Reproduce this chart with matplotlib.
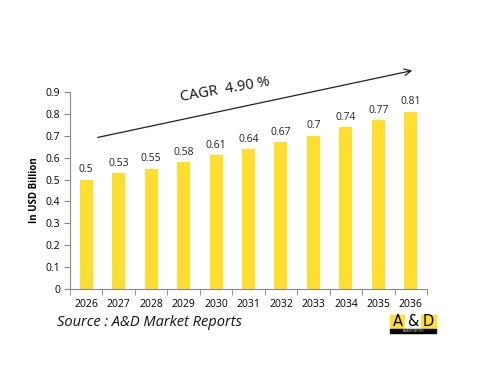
import matplotlib.pyplot as plt
from matplotlib.patches import Rectangle, FancyArrowPatch

years = ["2026", "2027", "2028", "2029", "2030", "2031", "2032", "2033", "2034", "2035", "2036"]
values = [0.5, 0.53, 0.55, 0.58, 0.61, 0.64, 0.67, 0.7, 0.74, 0.77, 0.81]
yticks = [0, 0.1, 0.2, 0.3, 0.4, 0.5, 0.6, 0.7, 0.8, 0.9]

plt.rcParams['font.family'] = ['Open Sans', 'DejaVu Sans']

W, H = 490, 377
fig = plt.figure(figsize=(W / 100, H / 100), dpi=100)
ax = fig.add_axes([70 / W, 1 - 289 / H, 357 / W, 197 / H])

x = list(range(len(years)))
ax.bar(x, values, width=0.4, color="#FFDE2E")
for xi, v in zip(x, values):
    ax.text(xi, v + 0.02, f"{v:g}", ha="center", va="bottom", fontsize=7.5, color="#222222")

ax.set_xlim(-0.5, len(years) - 0.5)
ax.set_ylim(0, 0.9)
ax.set_yticks(yticks)
ax.set_yticklabels([f"{t:g}" for t in yticks], fontsize=7.5)
ax.set_xticks(x)
ax.set_xticklabels(years, fontsize=7.5)
ax.set_xticks([i - 0.5 for i in range(len(years) + 1)], minor=True)
ax.tick_params(axis="x", which="major", length=0, pad=7)
ax.tick_params(axis="x", which="minor", length=4, color="#888888")
ax.tick_params(axis="y", length=4, color="#888888", pad=3)

for s in ["top", "right"]:
    ax.spines[s].set_visible(False)
for s in ["left", "bottom"]:
    ax.spines[s].set_color("#888888")

ax.set_ylabel("In USD Billion", fontsize=7, fontweight="bold", labelpad=4)

# CAGR arrow and label
fig.patches.append(FancyArrowPatch(
    (95 / W, 1 - 138 / H), (415 / W, 1 - 70 / H), transform=fig.transFigure,
    arrowstyle="->", mutation_scale=12, color="#222222", lw=0.9))
fig.text(225 / W, 1 - 90 / H, "CAGR  4.90 %", fontsize=10.5, rotation=10,
         ha="center", va="center", color="#111111")

fig.text(57 / W, 1 - 323 / H, "Source : A&D Market Reports", fontsize=10.5,
         style="italic", ha="left", va="center", color="#111111")

# logo
lx, ly, lw, lh = 390, 315, 46, 18
fig.patches.append(Rectangle((lx / W, 1 - (ly + lh) / H), lw / W, lh / H,
                             transform=fig.transFigure, color="#FFDE2E"))
fig.patches.append(Rectangle(((lx + 15) / W, 1 - (ly + 14) / H), 15 / W, 14 / H,
                             transform=fig.transFigure, color="white"))
fig.patches.append(Rectangle((lx / W, 1 - (ly + lh) / H), lw / W, 4 / H,
                             transform=fig.transFigure, color="black"))
for dx, ch in [(7.5, "A"), (22.5, "&"), (38, "D")]:
    fig.text((lx + dx) / W, 1 - (ly + 7) / H, ch, fontsize=10.5, ha="center",
             va="center", color="black", family="DejaVu Sans")
fig.text((lx + lw / 2) / W, 1 - (ly + 16.3) / H, "MARKET REPORTS", fontsize=1.8,
         ha="center", va="center", color="white")

fig.savefig("out.png", dpi=100)
